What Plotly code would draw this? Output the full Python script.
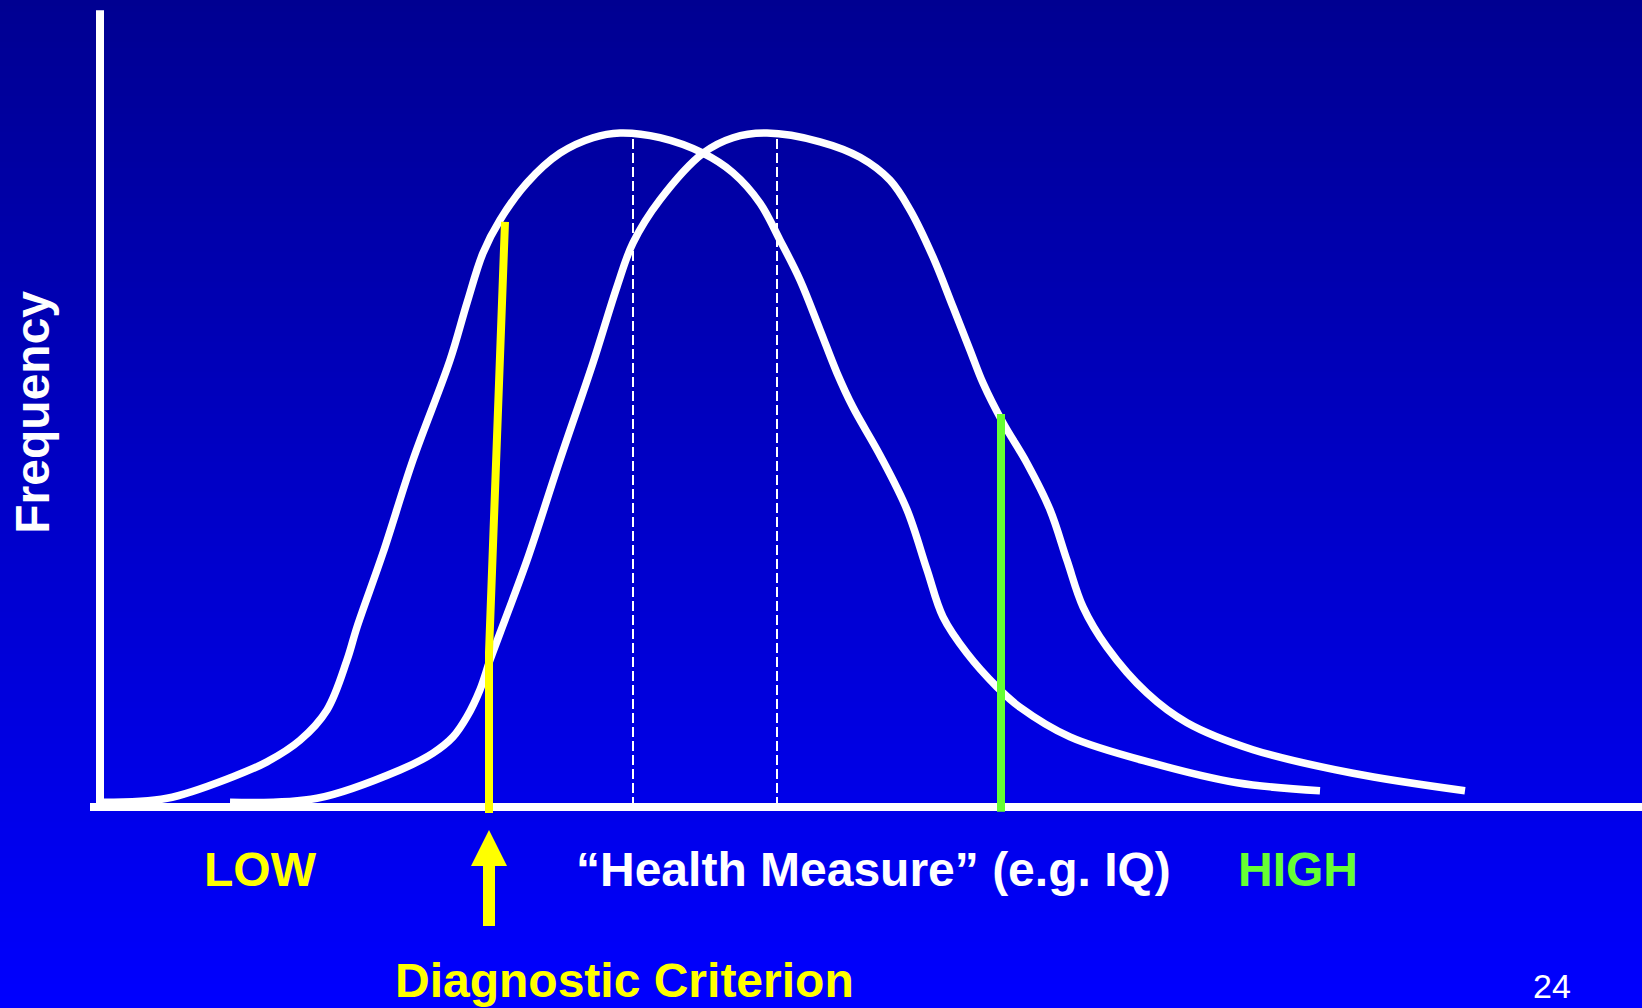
import plotly.graph_objects as go

# ---------------- data ----------------
# Left ("low") distribution: health measure score vs frequency
low_x = [0.3, 6.7, 13.3, 16.7, 20.0, 22.7, 24.7, 25.7, 28.3, 31.3, 35.0, 36.7, 38.3, 40.0,
         42.7, 46.0, 49.3, 52.0, 56.0, 60.3, 63.3, 66.0, 68.0, 70.0, 72.0, 73.7, 75.3,
         78.0, 80.7, 82.7, 84.3, 86.7, 89.7, 92.0, 97.0, 105.3, 113.7, 122.0]
low_y = [0.7, 1.3, 4.5, 6.7, 9.9, 14.4, 21.8, 26.7, 37.7, 51.5, 66.3, 74.8, 82.2, 87.1,
         92.6, 97.0, 99.3, 100.0, 99.3, 97.0, 94.1, 89.6, 84.1, 78.2, 70.8, 64.4, 59.3,
         52.2, 44.1, 35.2, 28.2, 22.8, 17.8, 14.8, 10.4, 6.5, 3.6, 2.4]

# Right ("typical") distribution
typ_x = [13.0, 21.7, 30.0, 33.3, 35.3, 36.7, 38.0, 39.0, 40.0, 42.7, 46.0, 49.3, 51.7, 53.3,
         56.0, 60.3, 63.3, 66.7, 72.0, 76.0, 79.0, 81.0, 83.3, 85.3, 87.0, 88.3, 90.3,
         92.7, 95.0, 96.7, 98.3, 100.7, 104.7, 108.7, 115.3, 125.3, 136.5]
typ_y = [0.7, 1.3, 5.5, 8.0, 10.4, 13.4, 17.4, 21.8, 25.8, 36.6, 51.5, 65.9, 77.2, 83.7,
         90.1, 97.0, 99.3, 100.0, 98.7, 96.4, 93.0, 88.6, 81.6, 74.2, 67.8, 62.9, 57.0,
         51.0, 44.1, 36.6, 29.7, 23.7, 16.9, 12.5, 8.5, 5.0, 2.4]

mean_x = [53.3, 67.7]          # dashed mean lines
mean_top = 99.7

criterion_x = [40.5, 38.9, 38.9]   # diagnostic criterion line (yellow)
criterion_y = [86.8, 22.9, -0.9]

high_x = 90.1                  # high cut-off (green)
high_y = [58.3, -0.7]

axis_x_end = 154.2
axis_y_top = 118.2

labels = {
    "low": "LOW",
    "measure": "\u201cHealth Measure\u201d (e.g. IQ)",
    "high": "HIGH",
    "criterion": "Diagnostic Criterion",
    "ylabel": "Frequency",
    "page": "24",
}

# ---------------- layout constants ----------------
W, H = 1642, 1008
PX_X = 10.0      # pixels per x unit
PX_Y = 6.74      # pixels per y unit
X0_PX = 100.0    # pixel column of x = 0
Y0_PX = 807.0    # pixel row of y = 0
xr = [-X0_PX / PX_X, (W - X0_PX) / PX_X]
yr = [-(H - Y0_PX) / PX_Y, Y0_PX / PX_Y]

WHITE = "#FFFFFF"
YELLOW = "#FFFF00"
GREEN = "#66FF33"
FONT = "Liberation Sans, Arial, Helvetica, sans-serif"

fig = go.Figure()

# background gradient strips
shapes = []
N = 168
for i in range(N):
    f_top = 1 - (i + 0.5) / N
    b = int(round(145 + 110 * f_top))
    shapes.append(dict(type="rect", xref="paper", yref="paper",
                       x0=0, x1=1, y0=i / N, y1=(i + 1) / N + 0.002,
                       fillcolor=f"rgb(0,0,{b})", line=dict(width=0), layer="below"))

# axes lines
fig.add_trace(go.Scatter(x=[xr[0] + 9.0, axis_x_end], y=[0, 0], mode="lines",
                         line=dict(color=WHITE, width=8), hoverinfo="skip"))
fig.add_trace(go.Scatter(x=[0, 0], y=[-0.6, axis_y_top], mode="lines",
                         line=dict(color=WHITE, width=8), hoverinfo="skip"))

# dashed mean lines
for mx in mean_x:
    fig.add_trace(go.Scatter(x=[mx, mx], y=[0, mean_top], mode="lines",
                             line=dict(color=WHITE, width=2, dash="10px,4px"),
                             hoverinfo="skip"))

# distribution curves
fig.add_trace(go.Scatter(x=low_x, y=low_y, mode="lines",
                         line=dict(color=WHITE, width=7.5, shape="spline", smoothing=1.0),
                         hoverinfo="skip"))
fig.add_trace(go.Scatter(x=typ_x, y=typ_y, mode="lines",
                         line=dict(color=WHITE, width=7.5, shape="spline", smoothing=1.0),
                         hoverinfo="skip"))

# criterion lines
fig.add_trace(go.Scatter(x=criterion_x, y=criterion_y, mode="lines",
                         line=dict(color=YELLOW, width=8), hoverinfo="skip"))
fig.add_trace(go.Scatter(x=[high_x, high_x], y=high_y, mode="lines",
                         line=dict(color=GREEN, width=8), hoverinfo="skip"))

# arrow pointing to the criterion
cx = criterion_x[-1]
tip = -23 / PX_Y
head_base = -59 / PX_Y
shaft_end = -119 / PX_Y
hw = 18 / PX_X
sw = 6 / PX_X
ax_ = [cx, cx + hw, cx + sw, cx + sw, cx - sw, cx - sw, cx - hw, cx]
ay_ = [tip, head_base, head_base, shaft_end, shaft_end, head_base, head_base, tip]
fig.add_trace(go.Scatter(x=ax_, y=ay_, mode="lines", fill="toself",
                         fillcolor=YELLOW, line=dict(color=YELLOW, width=0),
                         hoverinfo="skip"))

def ann(text, x, y, color, size, weight="bold", angle=0):
    return dict(text=text, x=x, y=y, xref="x", yref="y", showarrow=False,
                xanchor="center", yanchor="middle", textangle=angle,
                font=dict(family=FONT, size=size, color=color, weight=weight))

annotations = [
    ann(labels["low"], 16.0, -9.27, YELLOW, 48),
    ann(labels["measure"], 77.3, -9.27, WHITE, 48),
    ann(labels["high"], 119.8, -9.27, GREEN, 48),
    ann(labels["criterion"], 52.4, -25.7, YELLOW, 48),
    ann(labels["page"], 145.2, -26.6, WHITE, 34, weight="normal"),
    ann(labels["ylabel"], -6.7, 58.5, WHITE, 48, angle=-90),
]

fig.update_layout(
    width=W, height=H, autosize=False,
    margin=dict(l=0, r=0, t=0, b=0, pad=0),
    paper_bgcolor="#0000FF", plot_bgcolor="rgba(0,0,0,0)",
    showlegend=False,
    xaxis=dict(range=xr, visible=False, fixedrange=True),
    yaxis=dict(range=yr, visible=False, fixedrange=True),
    shapes=shapes, annotations=annotations,
)

fig.write_html("out.html")
